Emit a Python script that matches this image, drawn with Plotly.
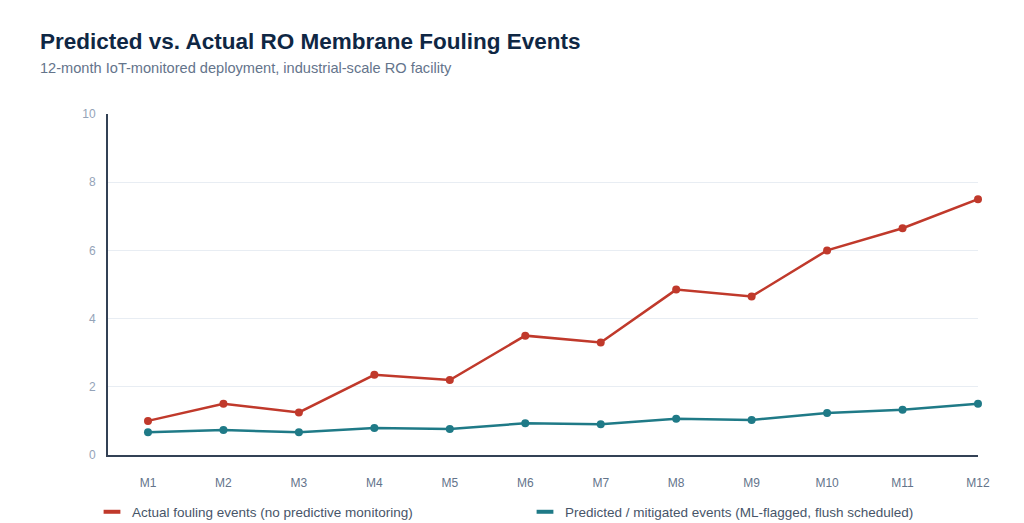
import plotly.graph_objects as go

months = ["M1", "M2", "M3", "M4", "M5", "M6", "M7", "M8", "M9", "M10", "M11", "M12"]
actual_events = [1.0, 1.5, 1.25, 2.35, 2.2, 3.5, 3.3, 4.85, 4.65, 6.0, 6.65, 7.5]
mitigated_events = [0.67, 0.73, 0.67, 0.79, 0.76, 0.93, 0.9, 1.06, 1.03, 1.23, 1.33, 1.5]
y_ticks = [0, 2, 4, 6, 8, 10]

actual_name = "Actual fouling events (no predictive monitoring)"
mitigated_name = "Predicted / mitigated events (ML-flagged, flush scheduled)"
RED = "#c0392b"
TEAL = "#1f7a87"

fig = go.Figure()
fig.add_trace(go.Scatter(
    x=list(range(len(months))), y=actual_events, mode="lines+markers",
    line=dict(color=RED, width=2.5), marker=dict(color=RED, size=8),
    showlegend=False, cliponaxis=False, name=actual_name))
fig.add_trace(go.Scatter(
    x=list(range(len(months))), y=mitigated_events, mode="lines+markers",
    line=dict(color=TEAL, width=2.5), marker=dict(color=TEAL, size=8),
    showlegend=False, cliponaxis=False, name=mitigated_name))
# legend swatches
for nm, col in [(actual_name, RED), (mitigated_name, TEAL)]:
    fig.add_trace(go.Scatter(
        x=[None], y=[None], mode="markers", name=nm,
        marker=dict(symbol="line-ew", size=12, color=col, line=dict(width=4, color=col))))

fig.update_layout(
    width=1024, height=523,
    margin=dict(l=108, r=46, t=114, b=68, autoexpand=False),
    paper_bgcolor="white", plot_bgcolor="white",
    font=dict(family="Liberation Sans, Arial, sans-serif", color="#475569"),
    showlegend=True,
    legend=dict(orientation="h", xref="container", x=92 / 1024, xanchor="left",
                yref="container", y=1 - 512 / 523, yanchor="middle",
                font=dict(size=13.5, color="#475569"), entrywidth=388, itemwidth=30,
                bgcolor="rgba(0,0,0,0)"),
    xaxis=dict(
        tickmode="array", tickvals=list(range(len(months))), ticktext=months,
        range=[-0.53, 11], showgrid=False, zeroline=False,
        showline=True, linecolor="#334155", linewidth=2,
        ticks="outside", ticklen=16, tickcolor="rgba(0,0,0,0)",
        tickfont=dict(size=12, color="#64748b")),
    yaxis=dict(
        range=[0, 10], tickvals=y_ticks, showgrid=True, gridcolor="#e8edf3", gridwidth=1,
        zeroline=False, showline=True, linecolor="#334155", linewidth=2,
        ticks="outside", ticklen=8, tickcolor="rgba(0,0,0,0)",
        tickfont=dict(size=12, color="#94a3b8")),
    annotations=[
        dict(text="<b>Predicted vs. Actual RO Membrane Fouling Events</b>",
             xref="paper", yref="paper", x=(38 - 108) / 870, y=(455 - 42) / 341,
             xanchor="left", yanchor="middle", showarrow=False,
             font=dict(size=22.5, color="#0f2744")),
        dict(text="12-month IoT-monitored deployment, industrial-scale RO facility",
             xref="paper", yref="paper", x=(38 - 108) / 870, y=(455 - 68) / 341,
             xanchor="left", yanchor="middle", showarrow=False,
             font=dict(size=14.6, color="#64748b")),
    ],
)

fig.write_html("out.html")
